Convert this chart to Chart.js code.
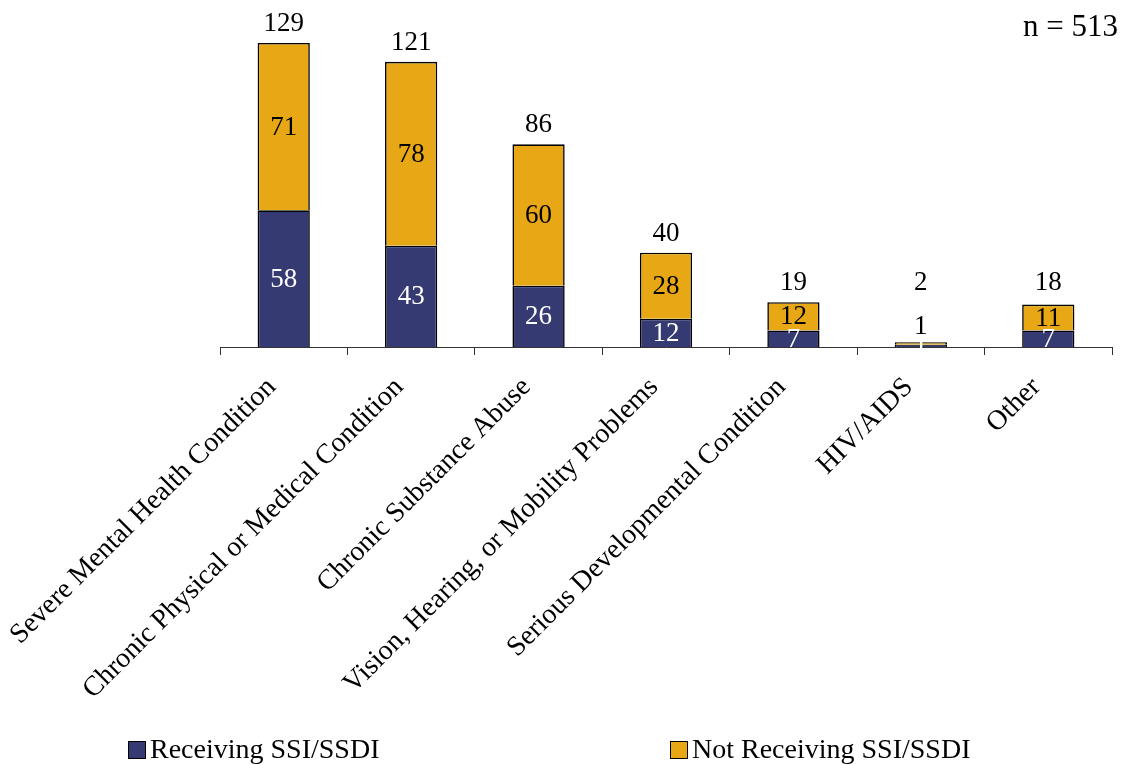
<!DOCTYPE html>
<html>
<head>
<meta charset="utf-8">
<script src="https://cdn.jsdelivr.net/npm/chart.js@4/dist/chart.umd.min.js"></script>
<style>
  body { margin: 0; background: #fff; }
  #wrap { position: relative; width: 1123px; height: 765px; font-family: "Liberation Serif", serif; }
  #chart { position: absolute; left: 0; top: 0; }
  .lg { position: absolute; top: 733px; font-size: 28px; color: #000; white-space: nowrap; }
  .lg span.box { display: inline-block; width: 16px; height: 16px; border: 1.5px solid #000; margin-right: 4px; vertical-align: -1px; }
  #nlabel { position: absolute; right: 5px; top: 8px; font-size: 31px; }
</style>
</head>
<body>
<div id="wrap">
  <canvas id="chart" width="1123" height="765"></canvas>
  <div id="nlabel">n = 513</div>
  <div class="lg" style="left:128px"><span class="box" style="background:#363a72"></span>Receiving SSI/SSDI</div>
  <div class="lg" style="left:670px"><span class="box" style="background:#e8a816"></span>Not Receiving SSI/SSDI</div>
</div>
<script>
const categories = [
  'Severe Mental Health Condition',
  'Chronic Physical or Medical Condition',
  'Chronic Substance Abuse',
  'Vision, Hearing, or Mobility Problems',
  'Serious Developmental Condition',
  'HIV/AIDS',
  'Other'
];
const receiving = [58, 43, 26, 12, 7, 1, 7];
const notReceiving = [71, 78, 60, 28, 12, 1, 11];
const totals = [129, 121, 86, 40, 19, 2, 18];

const FONT = '"Liberation Serif", serif';

const labelPlugin = {
  id: 'labels',
  afterDatasetsDraw(chart) {
    const ctx = chart.ctx;
    ctx.save();
    ctx.font = '27px ' + FONT;
    ctx.textAlign = 'center';
    ctx.textBaseline = 'middle';
    const colors = ['#ffffff', '#000000'];
    chart.data.datasets.forEach((ds, di) => {
      const meta = chart.getDatasetMeta(di);
      meta.data.forEach((el, i) => {
        ctx.fillStyle = colors[di];
        let y = (el.y + el.base) / 2 + 1;
        // tiny top segment: label sits just above the bar
        if (di === 1 && el.base - el.y < 8) y = el.y - 15;
        ctx.fillText(String(ds.data[i]), el.x, y);
      });
    });
    const top = chart.getDatasetMeta(1);
    const base = chart.scales.y.getPixelForValue(0);
    top.data.forEach((el, i) => {
      ctx.fillStyle = '#000';
      const y = Math.min(el.y - 19, base - 64);
      ctx.fillText(String(totals[i]), el.x, y);
    });
    ctx.restore();
  }
};

new Chart(document.getElementById('chart'), {
  type: 'bar',
  data: {
    labels: categories,
    datasets: [
      {
        label: 'Receiving SSI/SSDI',
        data: receiving,
        backgroundColor: '#363a72',
        borderColor: '#000',
        borderWidth: 1.6,
        categoryPercentage: 1,
        barPercentage: 0.41
      },
      {
        label: 'Not Receiving SSI/SSDI',
        data: notReceiving,
        backgroundColor: '#e8a816',
        borderColor: '#000',
        borderWidth: 1.6,
        categoryPercentage: 1,
        barPercentage: 0.41
      }
    ]
  },
  options: {
    responsive: false,
    animation: false,
    layout: { padding: { left: 220, right: 11, top: 17, bottom: 0 } },
    plugins: {
      legend: { display: false },
      tooltip: { enabled: false }
    },
    scales: {
      x: {
        stacked: true,
        grid: {
          offset: true,
          drawOnChartArea: false,
          drawTicks: true,
          tickLength: 8,
          color: '#333'
        },
        border: { color: '#333', width: 1 },
        ticks: {
          autoSkip: false,
          minRotation: 45,
          maxRotation: 45,
          padding: 16,
          labelOffset: -12,
          color: '#000',
          font: { family: FONT, size: 28 }
        },
        afterFit(scale) {
          scale.height = 765 - 347;
          scale.paddingLeft = 0;
          scale.paddingRight = 0;
        }
      },
      y: {
        stacked: true,
        display: false,
        min: 0,
        max: 140
      }
    }
  },
  plugins: [labelPlugin]
});
</script>
</body>
</html>
